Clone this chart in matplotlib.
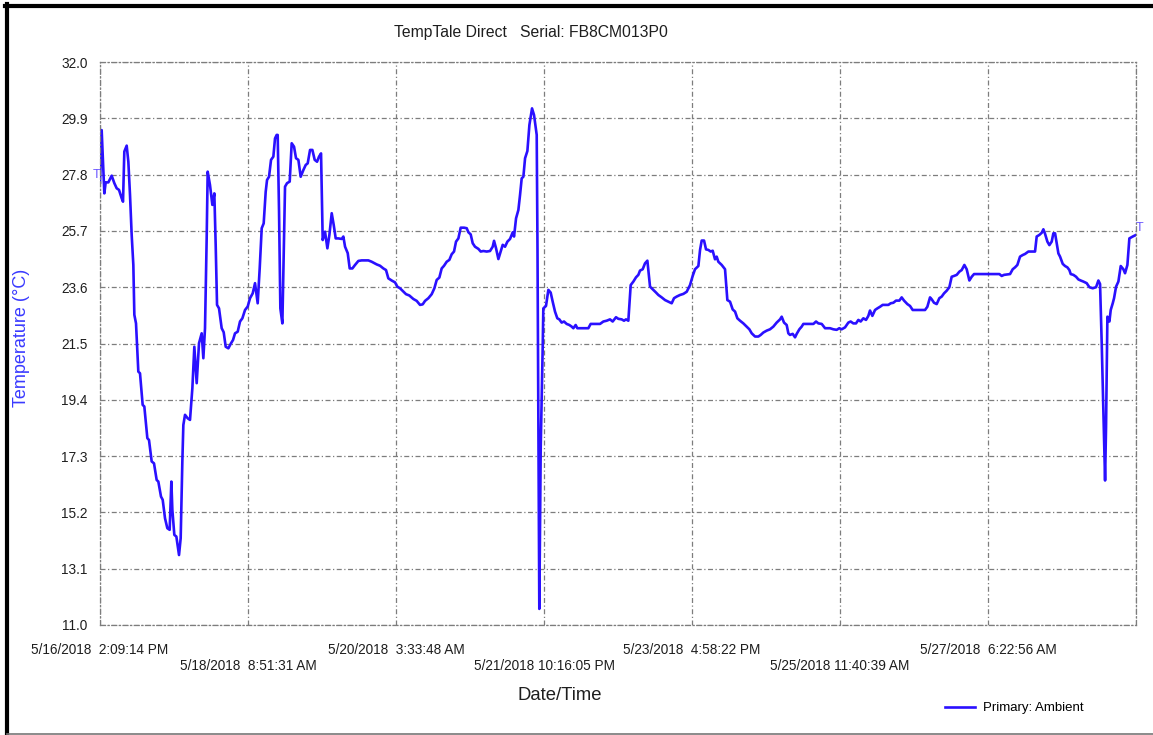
import matplotlib
matplotlib.use("Agg")
import matplotlib.pyplot as plt
import matplotlib.transforms as mtransforms
from matplotlib.lines import Line2D

plt.rcParams['font.family'] = ['Liberation Sans', 'DejaVu Sans']

title = "TempTale Direct   Serial: FB8CM013P0"
series_name = "Primary: Ambient"
y_label = "Temperature (\u00b0C)"
x_label = "Date/Time"

# hours since 5/16/2018 2:09:14 PM
hours = [
    0.00, 0.48, 1.25, 1.64, 2.41, 3.37, 4.14, 4.81, 5.48, 6.25, 6.64, 7.02, 7.70, 8.18,
    8.66, 9.14, 9.62, 9.91, 10.39, 11.06, 11.54, 12.31, 12.79, 13.66, 14.14, 14.91, 15.58,
    16.35, 16.83, 17.60, 18.09, 18.76, 19.43, 20.10, 20.59, 20.88, 21.45, 22.03, 22.80,
    23.28, 23.76, 24.05, 24.53, 25.30, 25.97, 26.65, 27.22, 27.90, 28.57, 29.34, 29.82,
    30.30, 30.78, 31.07, 31.74, 32.42, 32.99, 33.38, 33.77, 34.34, 35.11, 35.69, 36.27,
    37.04, 37.81, 38.38, 38.96, 39.73, 40.40, 41.08, 41.85, 42.62, 43.29, 44.06, 44.73,
    45.50, 46.08, 46.66, 47.23, 47.81, 48.20, 48.77, 49.35, 50.02, 50.50, 50.98, 51.27,
    51.66, 52.04, 52.62, 53.39, 53.97, 54.74, 55.31, 55.99, 56.56, 57.24, 57.91, 58.68,
    59.36, 59.93, 60.61, 61.28, 61.95, 62.63, 63.20, 63.78, 64.26, 64.93, 65.61, 66.19,
    66.86, 67.44, 68.01, 68.78, 69.74, 70.22, 70.71, 71.48, 72.05, 72.82, 73.59,
    74.55, 75.51, 77.43, 78.39, 79.84, 80.80, 81.76, 82.53, 83.20, 84.16, 85.13, 85.80,
    86.57, 87.53, 88.30, 89.26, 90.42, 91.38, 92.34, 93.11, 93.79, 94.75, 95.71, 96.48,
    97.15, 97.92, 98.59, 99.27, 100.04, 100.81, 101.48, 102.15, 102.73, 103.41, 104.08,
    105.04, 105.81, 106.29, 106.96, 107.54, 108.21, 109.18, 109.85, 110.61, 111.58,
    112.54, 113.31, 113.70, 114.28, 114.95, 115.62, 116.20, 116.87, 117.55, 118.32,
    119.09, 119.47, 120.05, 120.72, 121.20, 121.68, 122.16, 122.65, 123.32, 123.90,
    124.66, 125.24, 126.01, 126.24, 126.76, 127.17, 127.74, 127.92,
    128.69, 129.37, 130.04, 130.62, 131.29, 131.96, 132.54, 133.21, 133.89, 134.66,
    135.43, 136.10, 136.58, 137.25, 137.73, 140.91, 141.58, 144.28, 145.24, 146.20,
    147.16, 147.93, 148.89, 149.57, 150.53, 151.20, 151.78, 152.45, 153.13, 153.90,
    154.67, 155.34, 155.82, 156.59, 157.26, 157.94, 158.71, 159.67, 160.44, 161.11,
    162.07, 163.04, 164.00, 164.96, 165.63, 166.40, 167.36, 168.33, 169.29, 170.25,
    171.02, 171.69, 172.66, 173.14, 173.62, 174.29, 174.87, 175.54, 176.21, 176.79,
    177.46, 177.94, 178.42, 179.39, 180.35, 181.02, 181.79, 182.56, 183.24, 183.91,
    184.68, 185.64, 186.60, 187.37, 188.05, 189.01, 189.97, 190.64, 191.41, 192.37,
    193.33, 194.29, 195.25, 196.22, 196.70, 197.37, 198.14, 198.62, 199.10, 199.87,
    200.55, 201.03, 201.80, 202.47, 202.95, 205.84, 206.61, 207.28, 208.25, 209.21,
    210.65, 211.60, 212.56, 213.33, 214.01, 214.97, 215.93, 216.60, 217.37, 218.14,
    218.82, 219.49, 220.26, 221.03, 221.70, 222.18, 222.86, 223.63, 224.30, 225.07,
    225.84, 227.48, 228.15, 228.92, 229.69, 230.65, 231.32, 232.00, 232.96, 233.73,
    234.50, 238.06, 238.73, 239.50, 239.98, 240.65, 241.42, 242.19, 242.87, 243.54,
    244.31, 245.08, 245.75, 246.43, 247.20, 247.97, 248.64, 249.41, 250.08, 250.85,
    251.53, 252.20, 259.51, 260.18, 260.86, 262.59, 263.36, 264.03, 264.70, 265.47,
    266.24, 266.92, 267.88, 269.80, 270.28, 271.05, 271.73, 272.21, 272.69, 273.36,
    273.94, 274.61, 275.09, 275.58, 276.06, 276.54, 277.02, 277.79, 278.46, 279.13,
    279.71, 280.10, 280.87, 281.64, 282.31, 282.98, 283.75, 284.71, 285.48, 286.45,
    287.41, 288.08, 288.56, 289.04, 289.52, 290.01, 290.29, 290.68, 291.26, 291.64,
    292.22, 292.60, 293.18, 293.85, 294.53, 295.29, 295.77, 296.45, 297.02, 297.99,
    298.94,
]

temps = [
    27.50, 29.46, 27.10, 27.51, 27.51, 27.76, 27.48, 27.29, 27.23, 26.92, 26.79, 28.66,
    28.88, 28.28, 27.04, 25.55, 24.43, 22.57, 22.25, 20.45, 20.39, 19.21, 19.15, 17.97,
    17.90, 17.10, 17.03, 16.41, 16.35, 15.79, 15.67, 14.98, 14.61, 14.55, 16.35, 15.29,
    14.36, 14.30, 13.61, 14.24, 17.10, 18.46, 18.84, 18.71, 18.65, 19.83, 21.38, 20.02,
    21.51, 21.88, 20.95, 22.07, 25.42, 27.91, 27.41, 26.67, 27.10, 25.18, 22.94, 22.81,
    22.07, 21.92, 21.38, 21.32, 21.51, 21.63, 21.88, 21.94, 22.32, 22.44, 22.75, 22.88,
    23.19, 23.37, 23.75, 23.00, 24.30, 25.80, 25.98, 27.16, 27.60, 27.72, 28.35, 28.47,
    29.15, 29.28, 29.28, 26.42, 22.81, 22.25, 27.35, 27.48, 27.54, 28.97, 28.84, 28.41,
    28.35, 27.72, 27.97, 28.16, 28.22, 28.72, 28.72, 28.35, 28.28, 28.47, 28.59, 25.36,
    25.67, 25.05, 25.55, 26.36, 25.92, 25.42, 25.42, 25.40, 25.49, 25.11, 24.87, 24.30,
    24.30, 24.43,
    24.58, 24.60, 24.60, 24.55, 24.45, 24.40, 24.30, 24.24, 23.93, 23.85, 23.78, 23.62,
    23.56, 23.44, 23.34, 23.29, 23.16, 23.09, 22.94, 22.96, 23.09, 23.19, 23.34, 23.56,
    23.87, 23.96, 24.30, 24.40, 24.55, 24.62, 24.83, 24.93, 25.30, 25.42, 25.82, 25.82,
    25.80, 25.65, 25.57, 25.24, 25.11, 25.03, 24.93, 24.95, 24.93, 24.95, 25.11, 25.33,
    25.05, 24.65, 24.93, 25.18, 25.11, 25.30, 25.40, 25.65, 25.49, 26.17, 26.48, 27.04,
    27.66, 27.72, 28.41, 28.68, 29.65, 30.27, 30.02, 29.28, 24.99, 11.60, 17.65, 21.38,
    22.81,
    22.90, 23.50, 23.40, 23.06, 22.69, 22.44, 22.40, 22.28, 22.32, 22.23, 22.19, 22.13,
    22.07, 22.19, 22.07, 22.07, 22.23, 22.23, 22.32, 22.35, 22.40, 22.32, 22.48, 22.42,
    22.40, 22.35, 22.40, 22.35, 23.68, 23.81, 23.97, 24.06, 24.22, 24.27, 24.49, 24.59,
    23.62, 23.50, 23.40, 23.31, 23.22, 23.12, 23.06, 23.00, 23.19, 23.25, 23.31, 23.35,
    23.43, 23.68, 24.02, 24.27, 24.39, 24.99, 25.34, 25.34, 25.01, 24.99, 24.93, 24.96,
    24.64, 24.74, 24.55, 24.43, 24.27, 23.12, 23.06, 22.77, 22.69, 22.44, 22.35, 22.25,
    22.13, 22.03, 21.88, 21.76, 21.76, 21.82, 21.91, 21.98, 22.03, 22.13, 22.28, 22.40,
    22.50, 22.28, 22.19, 21.88, 21.82, 21.86, 21.73, 21.86, 22.03, 22.13, 22.23, 22.23,
    22.32, 22.25, 22.23, 22.07, 22.07,
    22.03, 22.01, 22.07, 22.03, 22.10, 22.28, 22.32, 22.25, 22.25, 22.38, 22.32, 22.44,
    22.38, 22.53, 22.73, 22.53, 22.75, 22.81, 22.87, 22.94, 22.94, 23.00, 23.02, 23.10,
    23.10, 23.22, 23.10, 22.97, 22.90, 22.75, 22.75, 22.87, 23.22, 23.15, 23.02, 22.97,
    23.19, 23.25, 23.37, 23.47, 23.60, 23.99, 24.02, 24.06, 24.18, 24.24, 24.43, 24.27,
    23.85, 23.99, 24.09, 24.09, 24.02, 24.06, 24.09, 24.27, 24.34, 24.43, 24.74, 24.80,
    24.84, 24.93, 24.93, 25.49, 25.55, 25.63, 25.76, 25.59, 25.30, 25.17, 25.30, 25.61,
    25.61, 25.24, 24.86, 24.74, 24.47, 24.39, 24.34, 24.24, 24.09, 24.06, 23.99, 23.89,
    23.85, 23.81, 23.75, 23.60, 23.56, 23.60, 23.85, 23.72, 21.51, 19.02, 16.39, 18.40,
    22.50, 22.32, 22.75, 23.00, 23.19, 23.62, 23.81, 24.39, 24.27, 24.12, 24.43, 25.42,
    25.49, 25.55,
]

y_ticks = [11.0, 13.1, 15.2, 17.3, 19.4, 21.5, 23.6, 25.7, 27.8, 29.9, 32.0]
tick_step = 42 + 42 / 60 + 17 / 3600  # 1 day 18:42:17 between labels
x_tick_labels = [
    "5/16/2018  2:09:14 PM",
    "5/18/2018  8:51:31 AM",
    "5/20/2018  3:33:48 AM",
    "5/21/2018 10:16:05 PM",
    "5/23/2018  4:58:22 PM",
    "5/25/2018 11:40:39 AM",
    "5/27/2018  6:22:56 AM",
    "",
]
x_ticks = [i * tick_step for i in range(len(x_tick_labels))]

line_color = "#2a10ff"
grid_color = "#7d7d7d"
dashdot = (0, (4, 2, 1, 2))

fig = plt.figure(figsize=(11.53, 7.35), dpi=100)
ax = fig.add_axes([100 / 1153, 110 / 735, 1036 / 1153, 563 / 735])

ax.plot(hours, temps, color=line_color, lw=1.9, label=series_name)

# start / stop markers
ax.text(hours[0], 27.8, "T", color="#6a55ff", fontsize=9, ha="right", va="center")
ax.text(hours[-1], temps[-1] + 0.05, "T", color="#6a55ff", fontsize=9, ha="left", va="bottom")

ax.set_xlim(x_ticks[0], x_ticks[-1])
ax.set_ylim(y_ticks[0], y_ticks[-1])
ax.set_yticks(y_ticks)
ax.set_yticklabels([f"{v:.1f}" for v in y_ticks])

# alternate tick labels onto two rows
ax.set_xticks(x_ticks)
ax.set_xticklabels([lab if i % 2 == 0 else "\n" + lab for i, lab in enumerate(x_tick_labels)])
shift = mtransforms.ScaledTranslation(4 / 100, 0, fig.dpi_scale_trans)
for lab in ax.get_xticklabels():
    lab.set_transform(lab.get_transform() + shift)
    lab.set_linespacing(1.22)

ax.tick_params(axis="both", length=0, labelsize=9.8, colors="#1e1e1e")
ax.tick_params(axis="x", pad=13)
ax.tick_params(axis="y", pad=9)

ax.grid(True, color=grid_color, linestyle=dashdot, linewidth=0.9)
for sp in ax.spines.values():
    sp.set_color(grid_color)
    sp.set_linestyle(dashdot)
    sp.set_linewidth(0.9)

fig.text(531 / 1153, 1 - 32 / 735, title, ha="center", va="center", fontsize=11.3, color="#1e1e1e")
fig.text(560 / 1153, 1 - 695 / 735, x_label, ha="center", va="center", fontsize=13.3, color="#1e1e1e")
fig.text(22 / 1153, 1 - 338 / 735, y_label, ha="center", va="center", rotation=90,
         fontsize=13, color="#3a3aff")

fig.legend(loc="center left", bbox_to_anchor=(945 / 1153, 1 - 708 / 735), frameon=False,
           borderpad=0, borderaxespad=0, handlelength=2.3, handletextpad=0.6,
           fontsize=9.5)

# page frame
fig.add_artist(Line2D([7 / 1153, 7 / 1153], [0, 1 - 4 / 735], transform=fig.transFigure,
                      color="black", lw=3))
fig.add_artist(Line2D([5 / 1153, 1], [1 - 6 / 735, 1 - 6 / 735], transform=fig.transFigure,
                      color="black", lw=3))
fig.add_artist(Line2D([7 / 1153, 1], [1.5 / 735, 1.5 / 735], transform=fig.transFigure,
                      color="#777777", lw=1.2))

fig.savefig("out.png", dpi=100)
